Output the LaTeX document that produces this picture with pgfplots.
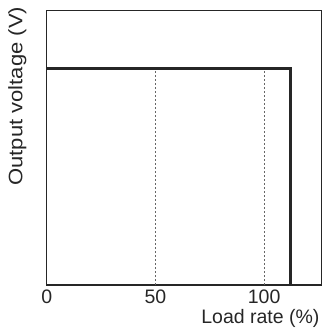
\documentclass[border=0pt]{standalone}
\usepackage{pgfplots}
\pgfplotsset{compat=1.18}
\usepackage{fontspec}
\setmainfont{Liberation Sans}
\begin{document}
\begin{tikzpicture}
\begin{axis}[
  name=ax,
  scale only axis,
  width=275pt, height=274.3pt,
  xmin=0, xmax=126.5, ymin=0, ymax=1,
  axis line style={line width=1.2pt, black!85},
  xtick={0,50,100}, ytick=\empty,
  major tick length=0pt,
  /pgf/number format/assume math mode=true,
  ticklabel style={font=\fontsize{19.5}{23}\selectfont, text=black!85},
  xticklabel style={yshift=-1pt},
  xlabel={Load rate (\%)},
  ylabel={\scalebox{1.13}[1]{Output voltage (V)}},
  label style={font=\fontsize{19.5}{23}\selectfont, text=black!85},
  xlabel style={at={(axis description cs:1,0)}, anchor=north east, inner sep=0pt, yshift=-24pt, xshift=-2pt},
  ylabel style={at={(axis description cs:0,1)}, anchor=south east, inner sep=0pt, yshift=20pt, xshift=4pt},
  clip=false,
]
\addplot[black!60, line width=0.9pt, dash pattern=on 2pt off 2pt] coordinates {(50,0) (50,0.79)};
\addplot[black!60, line width=0.9pt, dash pattern=on 2pt off 2pt] coordinates {(100,0) (100,0.79)};
\addplot[black!85, line width=3pt] coordinates {(0,0.79) (112.3,0.79) (112.3,0)};
\end{axis}
\pgfresetboundingbox
\path[use as bounding box] ([xshift=-46.7pt,yshift=-47pt]ax.south west) rectangle ([xshift=1.3pt,yshift=10.7pt]ax.north east);
\end{tikzpicture}
\end{document}
